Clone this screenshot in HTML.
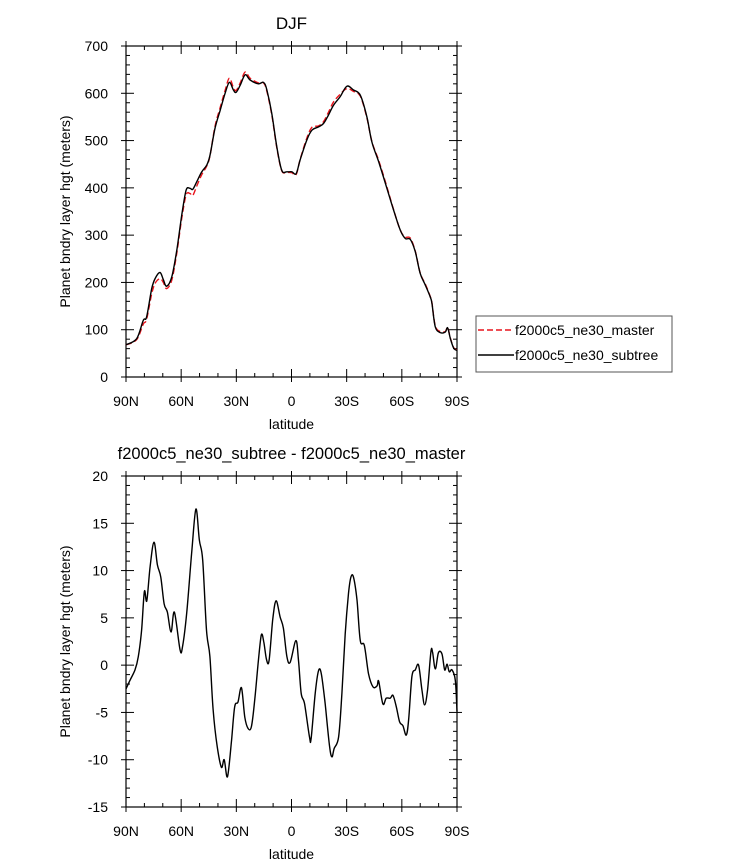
<!DOCTYPE html>
<html><head><meta charset="utf-8"><style>
html,body{margin:0;padding:0;background:#fff;}
svg{display:block;font-family:"Liberation Sans",sans-serif;}
</style></head><body>
<svg id="chart" width="733" height="865" viewBox="0 0 733 865"></svg>
<script>
// ---- data ----
const topLats = [90,84.2,80.6,78.8,76,74.2,71.5,69.7,67.9,65.1,62.4,59.7,57.3,55.2,53.7,51.5,48.8,46.1,44.3,41.6,38.8,36.1,33.8,31.6,30.1,27.9,25.2,22.5,18,15.2,13.4,10.7,8,5.3,2.5,-0.2,-2.5,-4.7,-8.3,-11.1,-14.7,-17.4,-20.1,-22.9,-26.5,-30.1,-33.7,-37.4,-41,-43.7,-47.4,-51.9,-55.5,-59.2,-61.9,-64.6,-67.3,-70,-72.8,-75.5,-76.4,-78.2,-80.9,-83.6,-84.9,-86.4,-88.2,-90];
const subtreeVals = [68,81,120,127,187,208,221,206,192,212,268,342,395,399,397,413,434,448,469,526,564,600,623,607,602,617,639,628,620,623,607,557,487,437,434,434,430,459,501,522,529,536,554,575,593,615,607,596,550,497,455,399,353,310,293,291,265,219,194,169,155,106,94,95,104,81,61,56];
const masterVals = [68,79,112,122,176,198,208,200,187,205,262,335,385,388,384,404,428,446,468,530,570,606,632,612,606,622,645,632,622,622,604,554,485,436,433,432,428,460,505,528,531,540,560,582,598,610,604,594,548,498,458,402,354,310,296,294,266,220,196,170,156,108,96,96,105,82,62,57];
const diffLats = [90,87.8,85.1,83.3,81.5,80,78.7,76.9,74.8,72.9,71.1,69.3,67.5,65.5,63.7,60.6,59.2,57,54.3,52,50.1,48.3,46.2,44.4,42.6,40.4,38.1,36.6,34.8,32.6,30.9,29.1,27.2,25.4,23.6,21.8,20,18,16.4,15.1,13.6,12.2,10.2,8.4,6.2,4.4,2.5,0.7,-2.4,-3.8,-5.3,-7.1,-9.8,-10.7,-12.9,-14.7,-16.2,-18.3,-20.7,-22,-23.2,-25.6,-27.4,-29.2,-31,-32.3,-33.7,-35.6,-37.4,-39.6,-41.9,-44.3,-46.5,-47.4,-49.7,-51.5,-53.7,-55.2,-57,-58.8,-60.6,-62.4,-63.7,-65.5,-67.3,-69.1,-70.9,-72.4,-74,-75.8,-76.7,-78.2,-79.9,-81.8,-83.3,-84.6,-85.8,-87.3,-89.1,-90];
const diffVals = [-2.5,-1.6,-0.5,0.9,3.7,7.8,6.8,10.4,13,10.6,9.3,6.5,5.6,3.5,5.6,1.6,2,5.5,11.8,16.5,13.2,11.1,3.7,0.9,-4.8,-8.6,-10.8,-10,-11.8,-7.9,-4.4,-3.9,-2.4,-5.5,-6.7,-6.5,-3.7,0.5,3.2,2.5,0.6,0.5,4.8,6.8,5.1,3.9,0.9,0.3,2.6,0.5,-3,-4.1,-7.6,-7.7,-3,-0.6,-0.9,-4.1,-8.6,-9.7,-8.8,-7.6,-3,3.3,7.6,9.3,9.3,6.9,2.6,2.1,-0.9,-2.3,-2.2,-1.7,-4.1,-3.5,-3.5,-3.2,-4.4,-6,-6.4,-7.4,-5.8,-1.2,-0.5,0,-2.6,-4.2,-2.6,1.4,1.4,-0.4,1.3,1.2,-0.5,0.1,-0.7,-0.5,-1.6,-4.9];
const xTickVals = [90,60,30,0,-30,-60,-90];
const xTickLabels = ["90N","60N","30N","0","30S","60S","90S"];
const topYTicks = [0,100,200,300,400,500,600,700];
const botYTicks = [-15,-10,-5,0,5,10,15,20];

const NS="http://www.w3.org/2000/svg";
const svg=document.getElementById('chart');
function mk(tag,attrs,parent){const e=document.createElementNS(NS,tag);for(const k in attrs)e.setAttribute(k,attrs[k]);(parent||svg).appendChild(e);return e;}
const X0=126,X1=457;
function xScale(lat){return X0+(90-lat)/180*(X1-X0);}

function panel(name,Y0,Y1,ymin,ymax,yticks,minorStep,title,titleSize){
  const g=mk('g',{});
  
  
  const ys=v=>Y1-(v-ymin)/(ymax-ymin)*(Y1-Y0);
  for(let lat=90;lat>=-90;lat-=10){
    const x=xScale(lat), major=(lat%30===0);
    const L=major?8:4;
    mk('line',{x1:x,y1:Y1,x2:x,y2:Y1-L,stroke:'#000','stroke-width':1},g);
    mk('line',{x1:x,y1:Y0,x2:x,y2:Y0+L,stroke:'#000','stroke-width':1},g);
  }
  for(let v=ymin;v<=ymax+1e-9;v+=minorStep){
    const y=ys(v), major=yticks.some(t=>Math.abs(t-v)<1e-6);
    const L=major?8:4;
    mk('line',{x1:X0,y1:y,x2:X0+L,y2:y,stroke:'#000','stroke-width':1},g);
    mk('line',{x1:X1,y1:y,x2:X1-L,y2:y,stroke:'#000','stroke-width':1},g);
  }
  xTickVals.forEach(v=>{const x=xScale(v);
    mk('line',{x1:x,y1:Y1,x2:x,y2:Y1+5,stroke:'#000','stroke-width':1},g);
    mk('line',{x1:x,y1:Y0,x2:x,y2:Y0-5,stroke:'#000','stroke-width':1},g);});
  yticks.forEach(v=>{const y=ys(v);
    mk('line',{x1:X0,y1:y,x2:X0-5,y2:y,stroke:'#000','stroke-width':1},g);
    mk('line',{x1:X1,y1:y,x2:X1+5,y2:y,stroke:'#000','stroke-width':1},g);
    const t=mk('text',{x:X0-18,y:y+5,'text-anchor':'end','font-size':14},g);t.textContent=v;
    
    });
  xTickVals.forEach((v,i)=>{const t=mk('text',{x:xScale(v),y:Y1+29,'text-anchor':'middle','font-size':14},g);t.textContent=xTickLabels[i];
    
    });
  const r=mk('rect',{x:X0,y:Y0,width:X1-X0,height:Y1-Y0,fill:'none',stroke:'#000','stroke-width':1.2},g);
  
  
  const xt=mk('text',{x:(X0+X1)/2,y:Y1+52,'text-anchor':'middle','font-size':14},g);xt.textContent='latitude';
  
  
  const yt=mk('text',{x:0,y:0,'text-anchor':'middle','font-size':14,transform:`translate(70,${(Y0+Y1)/2}) rotate(-90)`},g);yt.textContent='Planet bndry layer hgt (meters)';
  
  
  const tt=mk('text',{x:(X0+X1)/2,y:Y0-17,'text-anchor':'middle','font-size':titleSize},g);tt.textContent=title;
  
  
  return ys;
}
function line(lats,vals,ys,color,dash,name){
  const pts=lats.map((l,i)=>[xScale(l),ys(vals[i])]);
  let d='M'+pts[0][0].toFixed(1)+','+pts[0][1].toFixed(1);
  for(let i=0;i<pts.length-1;i++){
    const p0=pts[Math.max(0,i-1)],p1=pts[i],p2=pts[i+1],p3=pts[Math.min(pts.length-1,i+2)];
    const c1=[p1[0]+(p2[0]-p0[0])/6,p1[1]+(p2[1]-p0[1])/6];
    const c2=[p2[0]-(p3[0]-p1[0])/6,p2[1]-(p3[1]-p1[1])/6];
    d+=` C${c1[0].toFixed(1)},${c1[1].toFixed(1)} ${c2[0].toFixed(1)},${c2[1].toFixed(1)} ${p2[0].toFixed(1)},${p2[1].toFixed(1)}`;
  }
  const p=mk('path',{d:d,fill:'none',stroke:color,'stroke-width':1.4,'stroke-linejoin':'round'});
  if(dash)p.setAttribute('stroke-dasharray',dash);
  
  
}
const ysTop=panel('top-panel',46,377,0,700,topYTicks,20,'DJF',17);
line(topLats,masterVals,ysTop,'#e8141c','6,3','master-line');
line(topLats,subtreeVals,ysTop,'#000',null,'subtree-line');
const ysBot=panel('bottom-panel',476,807,-15,20,botYTicks,1,'f2000c5_ne30_subtree - f2000c5_ne30_master',16.5);
line(diffLats,diffVals,ysBot,'#000',null,'difference-line');

const lg=mk('g',{});


mk('rect',{x:476,y:316,width:196,height:56,fill:'#fff',stroke:'#555','stroke-width':1},lg);
const l1=mk('line',{x1:478,y1:330,x2:514,y2:330,stroke:'#e8141c','stroke-width':1.4,'stroke-dasharray':'6,3'},lg);


const t1=mk('text',{x:515,y:335,'font-size':14},lg);t1.textContent='f2000c5_ne30_master';


const l2=mk('line',{x1:478,y1:355,x2:514,y2:355,stroke:'#000','stroke-width':1.4},lg);


const t2=mk('text',{x:515,y:360,'font-size':14},lg);t2.textContent='f2000c5_ne30_subtree';


</script>
</body></html>
